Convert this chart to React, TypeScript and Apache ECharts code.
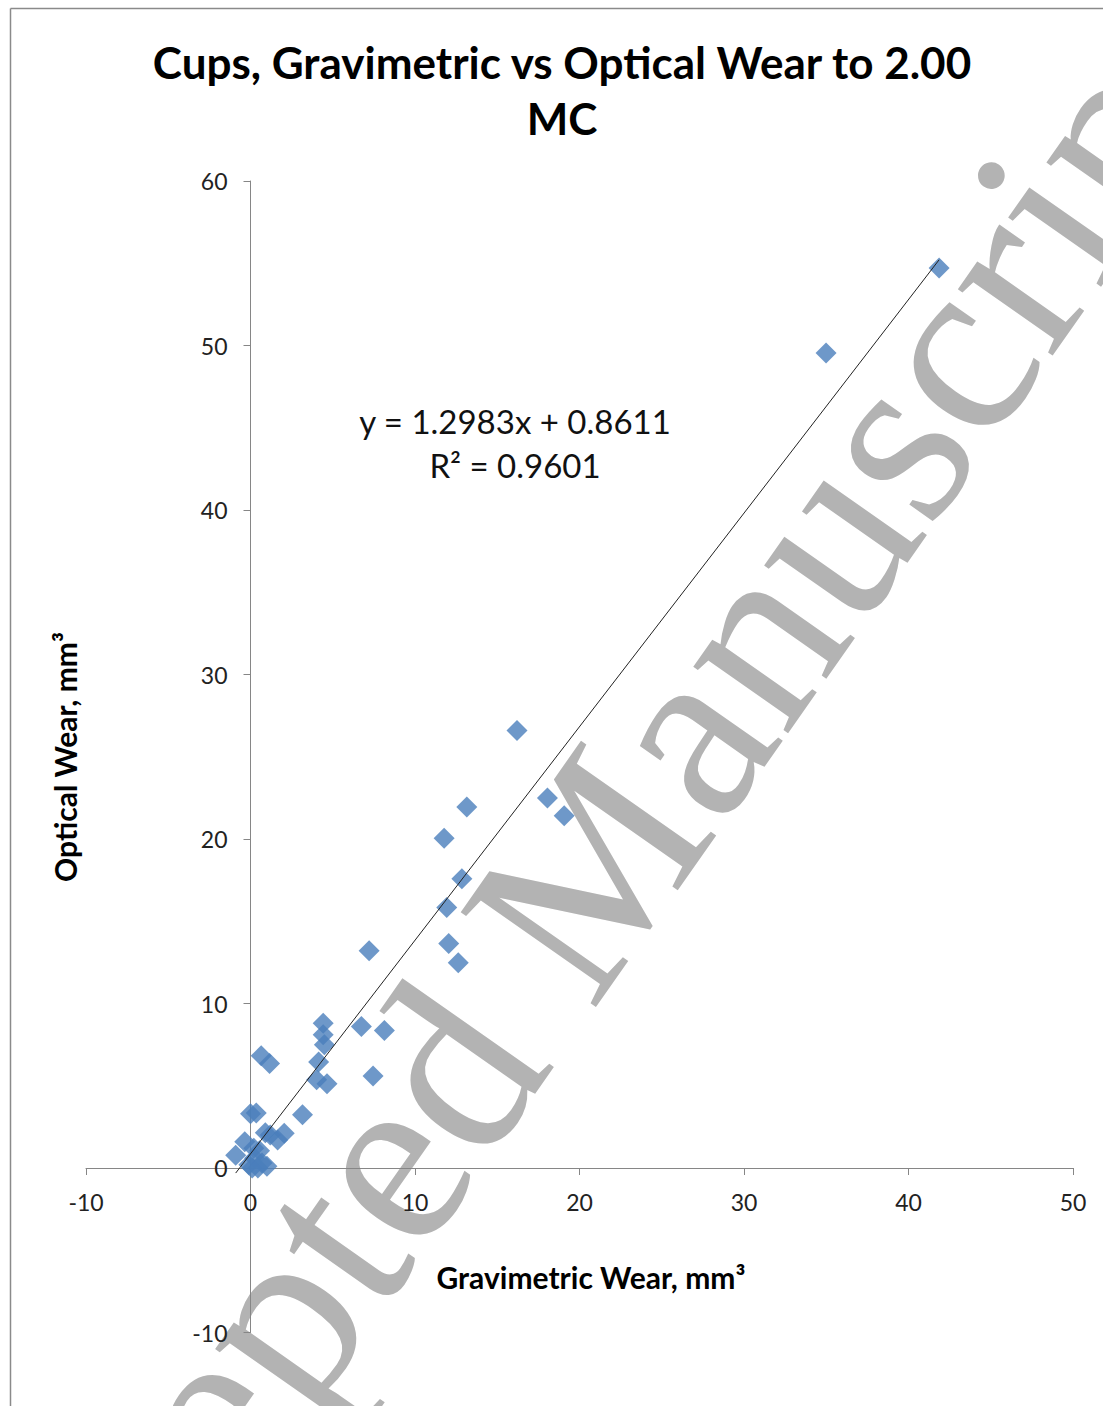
import React, { useEffect, useRef } from "react";
import * as echarts from "echarts";

const titleLines = ["Cups, Gravimetric vs Optical Wear to 2.00", "MC"];
const xAxisTitle = "Gravimetric Wear, mm³";
const yAxisTitle = "Optical Wear, mm³";
const equationLines = ["y = 1.2983x + 0.8611", "R² = 0.9601"];
const trendSlope = 1.2983;
const trendIntercept = 0.8611;
const watermarkText = "Accepted Manuscript";

const gravimetric = [
  41.86, 34.99, 16.2, 18.05, 19.07, 13.15, 11.77, 12.85, 11.93, 12.05, 12.63, 7.21,
  4.42, 4.42, 4.49, 6.74, 8.14, 7.45, 4.14, 4.02, 4.65, 0.65, 1.16, 3.16, 0.0, 0.35,
  2.05, 1.65, 0.9, -0.35, -0.9, 0.2, 0.55, 1.2, -0.1, 0.25, 0.7, 1.0, 0.1, 0.45,
];
const optical = [
  54.71, 49.54, 26.6, 22.5, 21.42, 21.95, 20.05, 17.59, 15.84, 13.64, 12.47, 13.2,
  8.8, 8.1, 7.5, 8.6, 8.36, 5.6, 6.44, 5.36, 5.12, 6.82, 6.36, 3.23, 3.3, 3.35,
  2.12, 1.7, 2.15, 1.6, 0.78, 1.2, 1.05, 2.0, 0.2, 0.6, 0.3, 0.1, 0.0, 0.0,
];

const FONT = "Lato";

export default function App() {
  const ref = useRef<HTMLDivElement>(null);
  useEffect(() => {
    if (!ref.current) return;
    const chart = echarts.init(ref.current, null, { renderer: "svg" });
    const points = gravimetric.map((g, i) => [g, optical[i]]);
    const xMin = Math.min(...gravimetric);
    const xMax = Math.max(...gravimetric);
    const trend = [
      [xMin, trendSlope * xMin + trendIntercept],
      [xMax, trendSlope * xMax + trendIntercept],
    ];
    const rot = (55 * Math.PI) / 180;
    chart.setOption({
      animation: false,
      backgroundColor: "#ffffff",
      grid: { left: 86, right: 30, top: 181, bottom: 73.5 },
      xAxis: {
        type: "value",
        min: -10,
        max: 50,
        interval: 10,
        position: "bottom",
        offset: -164.5,
        axisLine: { show: true, onZero: false, lineStyle: { color: "#868686", width: 1 } },
        axisTick: { show: true, length: 7, lineStyle: { color: "#868686" } },
        axisLabel: { margin: 22, fontFamily: FONT, fontSize: 23, color: "#222" },
        splitLine: { show: false },
      },
      yAxis: {
        type: "value",
        min: -10,
        max: 60,
        interval: 10,
        position: "left",
        offset: -164.5,
        axisLine: { show: true, onZero: false, lineStyle: { color: "#868686", width: 1 } },
        axisTick: { show: true, length: 7, lineStyle: { color: "#868686" } },
        axisLabel: { margin: 23, fontFamily: FONT, fontSize: 23, color: "#222" },
        splitLine: { show: false },
      },
      graphic: [
        {
          type: "text",
          z: -10,
          x: -60,
          y: 1795,
          rotation: rot,
          silent: true,
          style: {
            text: watermarkText,
            font: "252px 'Liberation Serif'",
            fill: "#b3b3b3",
            align: "left",
            verticalAlign: "middle",
          },
        },
        {
          type: "line",
          z: 10,
          shape: { x1: 10.5, y1: 8.5, x2: 1103, y2: 8.5 },
          style: { stroke: "#8a8a8a", lineWidth: 1.5 },
        },
        {
          type: "line",
          z: 10,
          shape: { x1: 10.5, y1: 8.5, x2: 10.5, y2: 1406 },
          style: { stroke: "#8a8a8a", lineWidth: 1.5 },
        },
        {
          type: "text",
          z: 10,
          x: 562,
          y: 62,
          style: {
            text: titleLines[0],
            font: `bold 44px ${FONT}`,
            fill: "#000",
            align: "center",
            verticalAlign: "middle",
          },
        },
        {
          type: "text",
          z: 10,
          x: 562,
          y: 118,
          style: {
            text: titleLines[1],
            font: `bold 44px ${FONT}`,
            fill: "#000",
            align: "center",
            verticalAlign: "middle",
          },
        },
        {
          type: "text",
          z: 10,
          x: 515,
          y: 421,
          style: {
            text: equationLines[0],
            font: `33px ${FONT}`,
            fill: "#111",
            align: "center",
            verticalAlign: "middle",
          },
        },
        {
          type: "text",
          z: 10,
          x: 515,
          y: 465,
          style: {
            text: equationLines[1],
            font: `33px ${FONT}`,
            fill: "#111",
            align: "center",
            verticalAlign: "middle",
          },
        },
        {
          type: "text",
          z: 10,
          x: 591,
          y: 1277,
          style: {
            text: xAxisTitle,
            font: `bold 30px ${FONT}`,
            fill: "#000",
            align: "center",
            verticalAlign: "middle",
          },
        },
        {
          type: "text",
          z: 10,
          x: 65,
          y: 757,
          rotation: Math.PI / 2,
          style: {
            text: yAxisTitle,
            font: `bold 30px ${FONT}`,
            fill: "#000",
            align: "center",
            verticalAlign: "middle",
          },
        },
      ],
      series: [
        {
          type: "scatter",
          data: points,
          symbol: "diamond",
          symbolSize: 21,
          itemStyle: { color: "#4a7ebb" },
          z: 3,
        },
        {
          type: "line",
          data: trend,
          symbol: "none",
          lineStyle: { color: "#222", width: 1 },
          z: 4,
        },
      ],
    });
    return () => chart.dispose();
  }, []);
  return (
    <div
      ref={ref}
      style={{ position: "absolute", left: 0, top: 0, width: 1103, height: 1406 }}
    />
  );
}
